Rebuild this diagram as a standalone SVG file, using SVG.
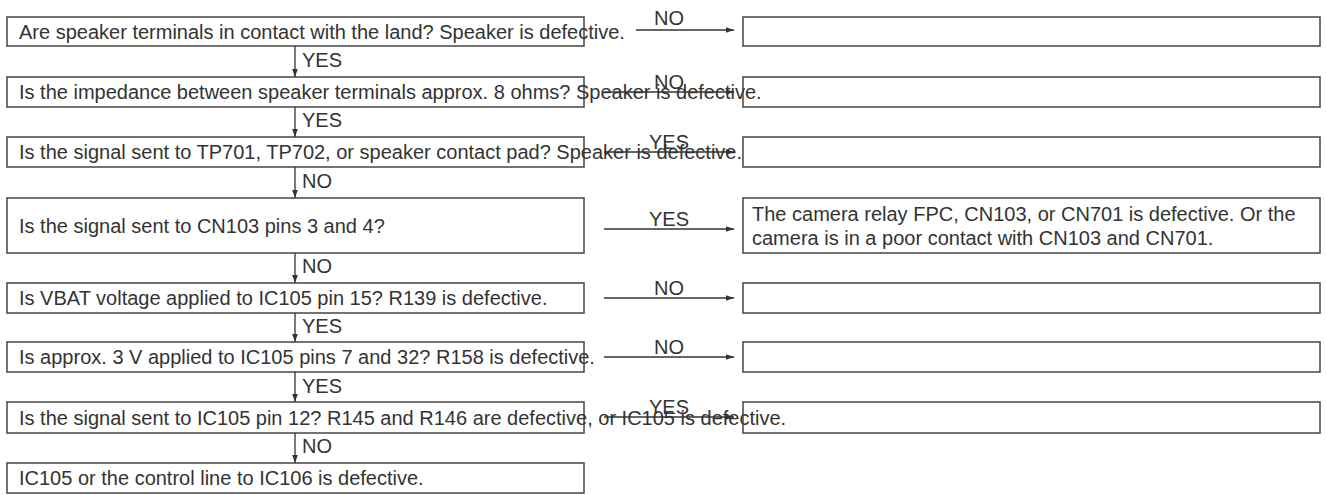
<svg xmlns="http://www.w3.org/2000/svg" width="1326" height="495" viewBox="0 0 1326 495">
<style>
.b{fill:none;stroke:#444;stroke-width:1.5}
.t{font-family:"Liberation Sans",Arial,sans-serif;font-size:20px;fill:#333}
.c line{stroke:#333;stroke-width:1.3;marker-end:url(#a)}
</style>
<defs><marker id="a" viewBox="0 0 10 10" refX="10" refY="5" markerWidth="8" markerHeight="8" markerUnits="userSpaceOnUse" orient="auto"><path d="M0,1.5L10,5L0,8.5z" fill="#333"/></marker></defs>
<rect width="1326" height="495" fill="#fff"/>
<g id="n1"><rect class="b" x="7" y="17" width="577" height="29"/><text class="t" x="19" y="39">Are speaker terminals in contact with the land? Speaker is defective.</text></g>
<g id="n2"><rect class="b" x="7" y="77" width="577" height="30"/><text class="t" x="19" y="99">Is the impedance between speaker terminals approx. 8 ohms? Speaker is defective.</text></g>
<g id="n3"><rect class="b" x="7" y="137" width="577" height="30"/><text class="t" x="19" y="159">Is the signal sent to TP701, TP702, or speaker contact pad? Speaker is defective.</text></g>
<g id="n4"><rect class="b" x="7" y="198" width="577" height="55"/><text class="t" x="19" y="233">Is the signal sent to CN103 pins 3 and 4?</text></g>
<g id="n5"><rect class="b" x="7" y="283" width="577" height="30"/><text class="t" x="19" y="305">Is VBAT voltage applied to IC105 pin 15? R139 is defective.</text></g>
<g id="n6"><rect class="b" x="7" y="342" width="577" height="30"/><text class="t" x="19" y="364">Is approx. 3 V applied to IC105 pins 7 and 32? R158 is defective.</text></g>
<g id="n7"><rect class="b" x="7" y="402" width="577" height="31"/><text class="t" x="19" y="425">Is the signal sent to IC105 pin 12? R145 and R146 are defective, or IC105 is defective.</text></g>
<g id="n8"><rect class="b" x="7" y="463" width="577" height="30"/><text class="t" x="19" y="485">IC105 or the control line to IC106 is defective.</text></g>
<g id="r1"><rect class="b" x="743" y="17" width="577" height="29"/></g>
<g id="r2"><rect class="b" x="743" y="77" width="577" height="30"/></g>
<g id="r3"><rect class="b" x="743" y="137" width="577" height="30"/></g>
<g id="r4"><rect class="b" x="743" y="198" width="577" height="55"/><text class="t" x="752" y="221">The camera relay FPC, CN103, or CN701 is defective. Or the</text><text class="t" x="752" y="245">camera is in a poor contact with CN103 and CN701.</text></g>
<g id="r5"><rect class="b" x="743" y="283" width="577" height="30"/></g>
<g id="r6"><rect class="b" x="743" y="342" width="577" height="30"/></g>
<g id="r7"><rect class="b" x="743" y="402" width="577" height="31"/></g>
<g class="c" id="connectors">
<line x1="295" y1="46" x2="295" y2="77"/><line x1="295" y1="107" x2="295" y2="137"/><line x1="295" y1="167" x2="295" y2="198"/><line x1="295" y1="253" x2="295" y2="283"/><line x1="295" y1="313" x2="295" y2="342"/><line x1="295" y1="372" x2="295" y2="402"/><line x1="295" y1="433" x2="295" y2="463"/>
<line x1="636" y1="30" x2="734" y2="30"/><line x1="604" y1="92" x2="734" y2="92"/><line x1="604" y1="152" x2="734" y2="152"/><line x1="604" y1="229" x2="734" y2="229"/><line x1="604" y1="298" x2="734" y2="298"/><line x1="604" y1="357" x2="734" y2="357"/><line x1="604" y1="417" x2="734" y2="417"/>
</g>
<g id="labels" class="t">
<text x="302" y="67">YES</text><text x="302" y="127">YES</text><text x="302" y="188">NO</text><text x="302" y="273">NO</text><text x="302" y="333">YES</text><text x="302" y="393">YES</text><text x="302" y="453">NO</text>
<text x="669" y="25" text-anchor="middle">NO</text><text x="669" y="89" text-anchor="middle">NO</text><text x="669" y="149" text-anchor="middle">YES</text><text x="669" y="226" text-anchor="middle">YES</text><text x="669" y="295" text-anchor="middle">NO</text><text x="669" y="354" text-anchor="middle">NO</text><text x="669" y="414" text-anchor="middle">YES</text>
</g>
</svg>
